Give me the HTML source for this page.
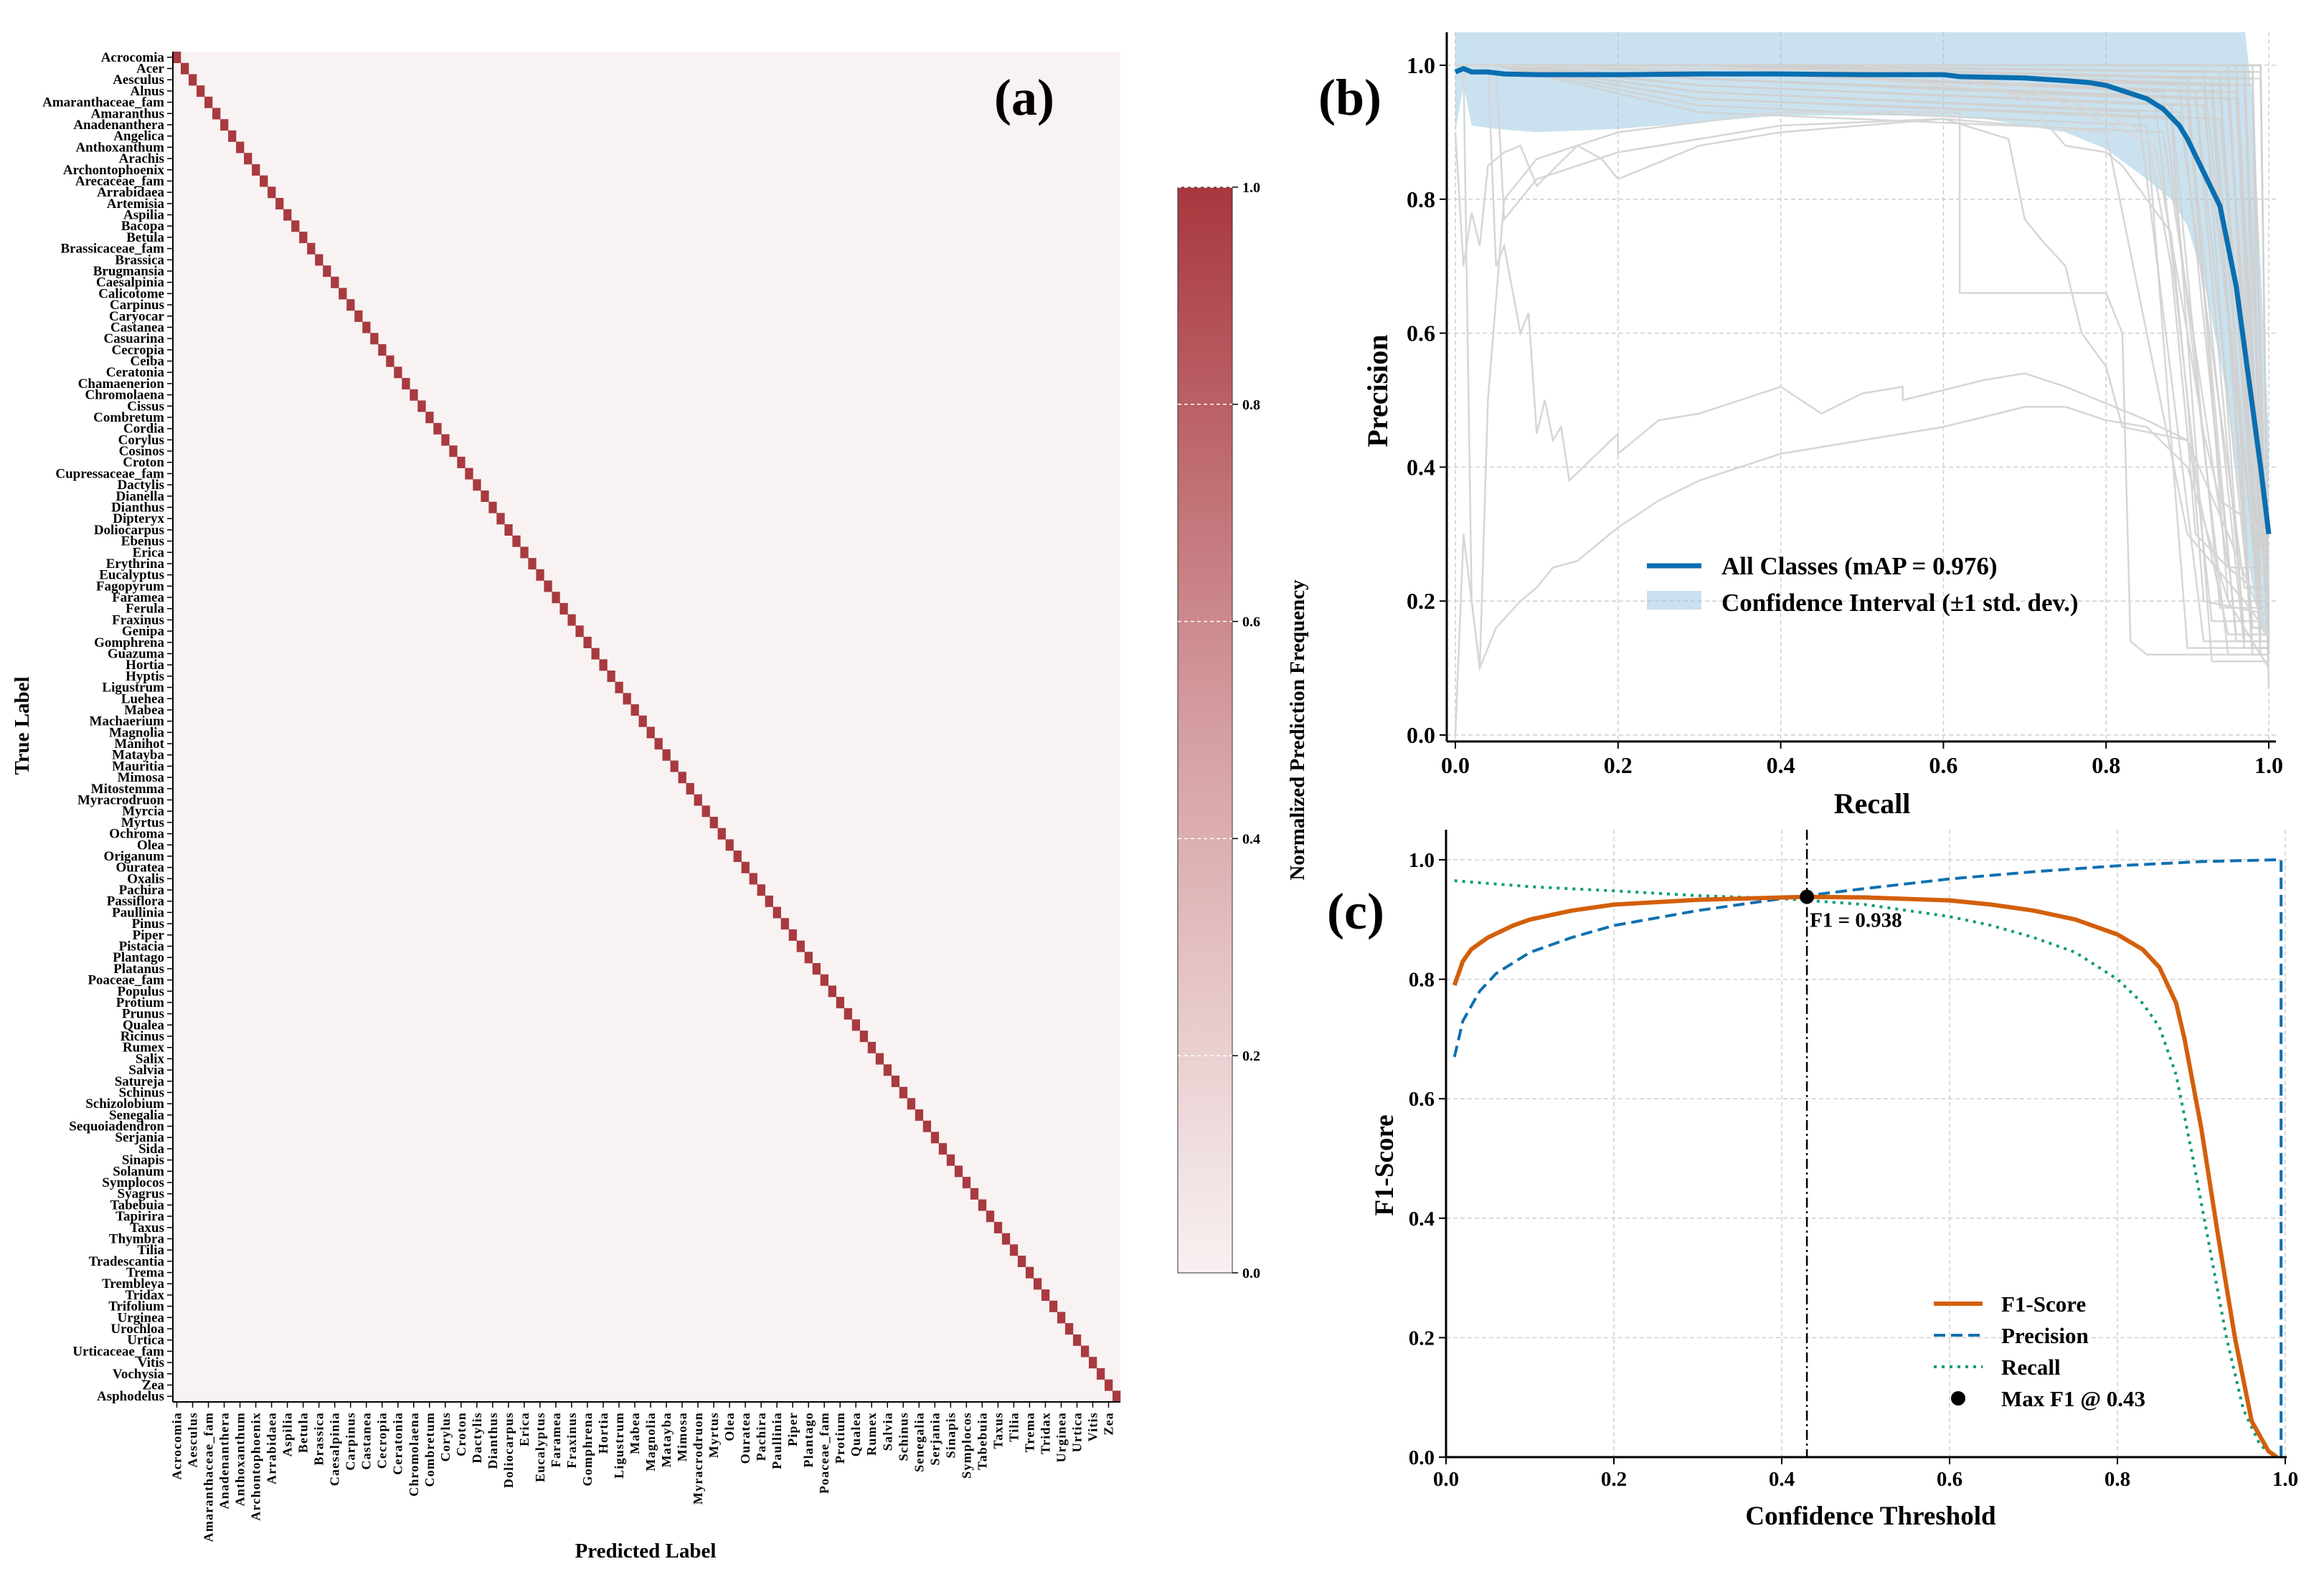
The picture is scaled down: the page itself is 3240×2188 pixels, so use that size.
<!DOCTYPE html>
<html><head><meta charset="utf-8">
<style>
html,body{margin:0;padding:0;background:#fff;}
svg{display:block;font-family:"Liberation Serif","Times New Roman",serif;font-weight:bold;}
</style></head>
<body>
<svg id="fig" width="3240" height="2188" viewBox="0 0 3240 2188" xmlns="http://www.w3.org/2000/svg">
<defs>
<linearGradient id="cbgrad" x1="0" y1="1" x2="0" y2="0">
<stop offset="0" stop-color="#f8f1f1"/>
<stop offset="0.5" stop-color="#d59ea1"/>
<stop offset="1" stop-color="#a8373e"/>
</linearGradient>
<clipPath id="clipB"><rect x="2017" y="45" width="1160" height="989"/></clipPath>
<clipPath id="clipC"><rect x="2016" y="1157" width="1172" height="876"/></clipPath>
</defs>
<g id="panelA"></g>
<g id="panelB"></g>
<g id="panelC"></g>
</svg>
<script>
// ---------- Panel A data ----------
const classNames = ["Acrocomia","Acer","Aesculus","Alnus","Amaranthaceae_fam","Amaranthus","Anadenanthera","Angelica","Anthoxanthum","Arachis","Archontophoenix","Arecaceae_fam","Arrabidaea","Artemisia","Aspilia","Bacopa","Betula","Brassicaceae_fam","Brassica","Brugmansia","Caesalpinia","Calicotome","Carpinus","Caryocar","Castanea","Casuarina","Cecropia","Ceiba","Ceratonia","Chamaenerion","Chromolaena","Cissus","Combretum","Cordia","Corylus","Cosinos","Croton","Cupressaceae_fam","Dactylis","Dianella","Dianthus","Dipteryx","Doliocarpus","Ebenus","Erica","Erythrina","Eucalyptus","Fagopyrum","Faramea","Ferula","Fraxinus","Genipa","Gomphrena","Guazuma","Hortia","Hyptis","Ligustrum","Luehea","Mabea","Machaerium","Magnolia","Manihot","Matayba","Mauritia","Mimosa","Mitostemma","Myracrodruon","Myrcia","Myrtus","Ochroma","Olea","Origanum","Ouratea","Oxalis","Pachira","Passiflora","Paullinia","Pinus","Piper","Pistacia","Plantago","Platanus","Poaceae_fam","Populus","Protium","Prunus","Qualea","Ricinus","Rumex","Salix","Salvia","Satureja","Schinus","Schizolobium","Senegalia","Sequoiadendron","Serjania","Sida","Sinapis","Solanum","Symplocos","Syagrus","Tabebuia","Tapirira","Taxus","Thymbra","Tilia","Tradescantia","Trema","Trembleya","Tridax","Trifolium","Urginea","Urochloa","Urtica","Urticaceae_fam","Vitis","Vochysia","Zea","Asphodelus"];
const diagValues = classNames.map(()=>1.0);
const cbTicks = [0.0,0.2,0.4,0.6,0.8,1.0];

// ---------- Panel B data ----------
const bTicks = [0.0,0.2,0.4,0.6,0.8,1.0];
const meanRecall = [0,0.01,0.02,0.04,0.06,0.1,0.2,0.3,0.4,0.5,0.6,0.62,0.7,0.75,0.78,0.8,0.82,0.85,0.87,0.89,0.9,0.92,0.94,0.96,0.98,0.99,1.0];
const meanPrec   = [0.99,0.995,0.99,0.99,0.987,0.986,0.986,0.987,0.987,0.986,0.986,0.983,0.981,0.977,0.974,0.97,0.962,0.95,0.935,0.91,0.89,0.84,0.79,0.67,0.49,0.4,0.3];
const bandRecall = [0,0.01,0.02,0.05,0.1,0.2,0.4,0.6,0.65,0.75,0.8,0.85,0.88,0.9,0.92,0.95,0.96,0.97,0.98,0.99,1.0];
const bandLower  = [0.9,0.97,0.91,0.905,0.9,0.905,0.925,0.925,0.92,0.9,0.875,0.83,0.8,0.76,0.68,0.5,0.4,0.3,0.22,0.16,0.14];
const bandUpper  = [1.08,1.08,1.08,1.08,1.08,1.08,1.08,1.08,1.08,1.08,1.08,1.08,1.08,1.08,1.08,1.08,1.08,1.06,0.95,0.7,0.45];
const grayCurves = [
 [[0,0],[0.01,0.3],[0.02,0.2],[0.03,0.1],[0.05,0.16],[0.08,0.2],[0.1,0.22],[0.12,0.25],[0.15,0.26],[0.18,0.29],[0.2,0.31],[0.25,0.35],[0.3,0.38],[0.35,0.4],[0.4,0.42],[0.45,0.43],[0.5,0.44],[0.6,0.46],[0.7,0.49],[0.75,0.49],[0.8,0.47],[0.85,0.46],[0.9,0.4],[0.95,0.2],[1,0.1]],
 [[0.04,1],[0.05,0.7],[0.06,0.73],[0.08,0.6],[0.09,0.63],[0.1,0.45],[0.11,0.5],[0.12,0.44],[0.13,0.46],[0.14,0.38],[0.2,0.45],[0.2,0.42],[0.25,0.47],[0.3,0.48],[0.35,0.5],[0.4,0.52],[0.45,0.48],[0.5,0.51],[0.55,0.52],[0.55,0.5],[0.65,0.53],[0.7,0.54],[0.75,0.52],[0.85,0.47],[0.9,0.44],[0.95,0.3],[1,0.15]],
 [[0,0.9],[0.01,0.7],[0.02,0.78],[0.03,0.73],[0.04,0.85],[0.06,0.87],[0.08,0.88],[0.1,0.82],[0.15,0.88],[0.18,0.86],[0.2,0.83],[0.3,0.88],[0.4,0.9],[0.6,0.92],[0.8,0.9],[0.85,0.6],[0.9,0.3],[0.97,0.2],[1,0.15]],
 [[0.01,1],[0.02,0.2],[0.03,0.1],[0.04,0.5],[0.06,0.8],[0.1,0.86],[0.2,0.9],[0.4,0.93],[0.62,0.93],[0.62,0.66],[0.8,0.66],[0.82,0.6],[0.83,0.14],[0.85,0.12],[1,0.12]],
 [[0.05,1],[0.06,0.77],[0.1,0.83],[0.2,0.87],[0.4,0.91],[0.6,0.92],[0.68,0.89],[0.7,0.77],[0.72,0.74],[0.75,0.7],[0.77,0.6],[0.8,0.55],[0.82,0.46],[0.9,0.44],[0.95,0.15],[1,0.15]],
 [[0,1],[0.6,0.99],[0.7,0.95],[0.75,0.88],[0.8,0.87],[0.82,0.85],[0.85,0.8],[0.88,0.75],[0.9,0.5],[0.92,0.2],[1,0.18]],
 [[0.3,1],[0.6,0.97],[0.75,0.95],[0.85,0.9],[0.88,0.7],[0.9,0.45],[0.91,0.3],[0.95,0.25],[1,0.2]],
 [[0.5,1],[0.7,0.97],[0.86,0.88],[0.9,0.6],[0.92,0.45],[0.94,0.35],[1,0.3]]
];
const classDropStart = [0.84,0.86,0.87,0.88,0.89,0.9,0.9,0.91,0.92,0.92,0.93,0.93,0.94,0.94,0.95,0.95,0.95,0.96,0.96,0.96,0.97,0.97,0.97,0.98,0.98,0.98,0.99,0.99,0.99,0.99,0.88,0.9,0.93,0.95,0.97,0.85,0.91,0.94,0.96,0.98,0.87,0.89,0.92,0.94,0.96];
const classDropEnd   = [0.92,0.93,0.95,0.94,0.96,0.97,0.95,0.98,0.97,0.99,0.98,0.99,0.99,0.98,0.99,1.0,0.99,1.0,0.99,1.0,1.0,0.99,1.0,1.0,0.99,1.0,1.0,1.0,1.0,1.0,0.93,0.96,0.98,0.99,1.0,0.9,0.97,0.99,1.0,1.0,0.95,0.97,0.98,0.99,0.99];
const classPlateau   = [0.93,0.95,0.96,0.94,0.97,0.95,0.98,0.96,0.97,0.99,0.95,0.98,0.96,0.99,0.97,0.95,1.0,0.98,0.96,0.99,0.97,1.0,0.98,0.99,1.0,0.97,1.0,0.98,0.99,1.0,0.92,0.94,0.96,0.98,0.99,0.91,0.95,0.97,1.0,0.98,0.9,0.93,0.94,0.92,0.95];
const classFloor     = [0.14,0.17,0.12,0.19,0.15,0.13,0.2,0.16,0.14,0.18,0.12,0.15,0.17,0.13,0.19,0.16,0.14,0.12,0.18,0.15,0.13,0.17,0.2,0.14,0.16,0.12,0.15,0.18,0.13,0.17,0.11,0.14,0.16,0.12,0.19,0.13,0.15,0.17,0.14,0.07,0.25,0.22,0.3,0.24,0.28];

// ---------- Panel C data ----------
const cTicks = [0.0,0.2,0.4,0.6,0.8,1.0];
const f1Thr  = [0.01,0.02,0.03,0.05,0.08,0.1,0.15,0.2,0.3,0.43,0.5,0.6,0.65,0.7,0.75,0.8,0.83,0.85,0.87,0.88,0.9,0.92,0.94,0.96,0.98,0.99];
const f1Val  = [0.79,0.83,0.85,0.87,0.89,0.90,0.915,0.925,0.933,0.938,0.937,0.932,0.925,0.915,0.9,0.875,0.85,0.82,0.76,0.7,0.55,0.37,0.2,0.06,0.01,0.0];
const precThr = [0.01,0.02,0.04,0.06,0.1,0.15,0.2,0.3,0.4,0.5,0.6,0.7,0.8,0.9,0.99,0.995,0.995];
const precVal = [0.67,0.73,0.78,0.81,0.845,0.87,0.89,0.915,0.935,0.952,0.968,0.98,0.99,0.997,1.0,1.0,0.0];
const recThr = [0.01,0.1,0.2,0.3,0.4,0.5,0.55,0.6,0.65,0.7,0.75,0.8,0.83,0.85,0.87,0.89,0.91,0.93,0.95,0.97,0.99];
const recVal = [0.965,0.955,0.948,0.94,0.935,0.925,0.915,0.905,0.89,0.87,0.845,0.8,0.76,0.72,0.64,0.5,0.35,0.2,0.08,0.02,0.0];
const maxF1Thr = [0.43];
const maxF1Val = [0.938];

const NS="http://www.w3.org/2000/svg";
function mk(parent,tag,attrs,text){const e=document.createElementNS(NS,tag);for(const k in attrs)e.setAttribute(k,attrs[k]);if(text!==undefined)e.textContent=text;parent.appendChild(e);return e;}

// ================= Panel A =================
const A=document.getElementById('panelA');
const aL=241,aR=1562,aT=72,aB=1955,n=classNames.length;
const cw=(aR-aL)/n, ch=(aB-aT)/n;
const ax=i=>aL+i*cw, ay=i=>aT+i*ch;
let e=mk(A,'rect',{x:aL,y:aT,width:aR-aL,height:aB-aT,fill:'#f8f2f2'});


function cellColor(v){const a=[248,242,242],b=[168,58,64];return 'rgb('+a.map((c,k)=>Math.round(c+(b[k]-c)*v)).join(',')+')';}
diagValues.forEach((v,i)=>{
  const r=mk(A,'rect',{x:ax(i),y:ay(i),width:cw+0.3,height:ch+0.3,fill:cellColor(v)});
  
  
});
mk(A,'line',{x1:aL,y1:aT,x2:aL,y2:aB,stroke:'#000','stroke-width':2});
mk(A,'line',{x1:aL,y1:aB,x2:aR,y2:aB,stroke:'#000','stroke-width':2});
classNames.forEach((nm,i)=>{
  const y=ay(i)+ch/2;
  mk(A,'line',{x1:aL-8,y1:y,x2:aL,y2:y,stroke:'#000','stroke-width':1.5});
  const t=mk(A,'text',{x:aL-12,y:y+6,'text-anchor':'end','font-size':19},nm);
  
  
});
classNames.forEach((nm,i)=>{
  if(i%2!==0) return;
  const x=ax(i)+cw/2;
  mk(A,'line',{x1:x,y1:aB,x2:x,y2:aB+8,stroke:'#000','stroke-width':1.5});
  const t=mk(A,'text',{x:0,y:0,'text-anchor':'end','font-size':18,'letter-spacing':1.2,transform:`translate(${x+6},${aB+14}) rotate(-90)`},nm);
  
  
});
e=mk(A,'text',{x:0,y:0,'text-anchor':'middle','font-size':29,transform:`translate(40,1012) rotate(-90)`},'True Label');


e=mk(A,'text',{x:900,y:2172,'text-anchor':'middle','font-size':29},'Predicted Label');


e=mk(A,'text',{x:1428,y:160,'text-anchor':'middle','font-size':72},'(a)');


// colorbar
const cbL=1642,cbR=1718,cbT=261,cbB=1775;
const cby=v=>cbB-v*(cbB-cbT);
e=mk(A,'rect',{x:cbL,y:cbT,width:cbR-cbL,height:cbB-cbT,fill:'url(#cbgrad)'});


mk(A,'rect',{x:cbL,y:cbT,width:cbR-cbL,height:cbB-cbT,fill:'none',stroke:'#333','stroke-width':1});
cbTicks.forEach(v=>{
  const y=cby(v);
  if(v>0) mk(A,'line',{x1:cbL,y1:y,x2:cbR,y2:y,stroke:'#fff','stroke-width':1.5,'stroke-dasharray':'5,4'});
  mk(A,'line',{x1:cbR,y1:y,x2:cbR+8,y2:y,stroke:'#000','stroke-width':1.5});
  const t=mk(A,'text',{x:cbR+14,y:y+7,'font-size':20},v.toFixed(1));
  
  
});
e=mk(A,'text',{x:0,y:0,'text-anchor':'middle','font-size':29,transform:`translate(1818,1018) rotate(-90)`},'Normalized Prediction Frequency');



// ================= Panel B =================
const B=document.getElementById('panelB');
const bx=r=>2029+r*1134, by=p=>1025-p*934;
const bL=2017,bR=3173,bT=45,bBot=1034;
bTicks.forEach(v=>{
  mk(B,'line',{x1:bx(v),y1:bT,x2:bx(v),y2:bBot,stroke:'#cfcfcf','stroke-width':1.5,'stroke-dasharray':'6,4'});
  mk(B,'line',{x1:bL,y1:by(v),x2:bR,y2:by(v),stroke:'#cfcfcf','stroke-width':1.5,'stroke-dasharray':'6,4'});
});
const gB=mk(B,'g',{'clip-path':'url(#clipB)'});
let bandPts=bandRecall.map((r,i)=>bx(r)+','+by(bandUpper[i]));
bandPts=bandPts.concat(bandRecall.map((r,i)=>bx(r)+','+by(bandLower[i])).reverse());
e=mk(gB,'polygon',{points:bandPts.join(' '),fill:'#9ecae1','fill-opacity':0.55});


classDropStart.forEach((a,i)=>{
  const p=classPlateau[i];
  const pts=[[0,1],[0.05,1],[0.3,Math.min(1,p+0.03)],[a,p],[classDropEnd[i],classFloor[i]],[1,classFloor[i]]];
  const pl=mk(gB,'polyline',{points:pts.map(q=>bx(q[0])+','+by(q[1])).join(' '),fill:'none',stroke:'#d0d0d0','stroke-width':2.5,'stroke-opacity':0.85});
  
  
});
grayCurves.forEach(c=>{
  const pl=mk(gB,'polyline',{points:c.map(q=>bx(q[0])+','+by(q[1])).join(' '),fill:'none',stroke:'#d6d6d6','stroke-width':2.5});
  
  
});
e=mk(gB,'polyline',{points:meanRecall.map((r,i)=>bx(r)+','+by(meanPrec[i])).join(' '),fill:'none',stroke:'#0a6eb0','stroke-width':7,'stroke-linejoin':'round'});


mk(B,'line',{x1:bL,y1:bT,x2:bL,y2:bBot,stroke:'#000','stroke-width':3});
mk(B,'line',{x1:bL,y1:bBot,x2:bR,y2:bBot,stroke:'#000','stroke-width':3});
bTicks.forEach(v=>{
  mk(B,'line',{x1:bL-10,y1:by(v),x2:bL,y2:by(v),stroke:'#000','stroke-width':2});
  let t=mk(B,'text',{x:bL-16,y:by(v)+11,'text-anchor':'end','font-size':32},v.toFixed(1));
  
  
  mk(B,'line',{x1:bx(v),y1:bBot,x2:bx(v),y2:bBot+10,stroke:'#000','stroke-width':2});
  t=mk(B,'text',{x:bx(v),y:bBot+44,'text-anchor':'middle','font-size':32},v.toFixed(1));
  
  
});
e=mk(B,'text',{x:0,y:0,'text-anchor':'middle','font-size':40,transform:`translate(1934,545) rotate(-90)`},'Precision');


e=mk(B,'text',{x:2610,y:1134,'text-anchor':'middle','font-size':40},'Recall');


e=mk(B,'text',{x:1882,y:160,'text-anchor':'middle','font-size':72},'(b)');


mk(B,'line',{x1:2296,y1:789,x2:2372,y2:789,stroke:'#0a6eb0','stroke-width':7});
e=mk(B,'text',{x:2400,y:801,'font-size':35},'All Classes (mAP = 0.976)');


mk(B,'rect',{x:2296,y:824,width:76,height:26,fill:'#9ecae1','fill-opacity':0.55});
e=mk(B,'text',{x:2400,y:852,'font-size':35},'Confidence Interval (±1 std. dev.)');



// ================= Panel C =================
const C=document.getElementById('panelC');
const cx=t=>2016+t*1170, cy=v=>2032-v*833;
const cL=2016,cR=3188,cT=1157,cBot=2032;
cTicks.forEach(v=>{
  mk(C,'line',{x1:cx(v),y1:cT,x2:cx(v),y2:cBot,stroke:'#cfcfcf','stroke-width':1.5,'stroke-dasharray':'6,4'});
  mk(C,'line',{x1:cL,y1:cy(v),x2:cR,y2:cy(v),stroke:'#cfcfcf','stroke-width':1.5,'stroke-dasharray':'6,4'});
});
const gC=mk(C,'g',{'clip-path':'url(#clipC)'});
e=mk(gC,'line',{x1:cx(maxF1Thr[0]),y1:cT,x2:cx(maxF1Thr[0]),y2:cBot,stroke:'#000','stroke-width':2.5,'stroke-dasharray':'14,5,3,5'});


e=mk(gC,'polyline',{points:recThr.map((t,i)=>cx(t)+','+cy(recVal[i])).join(' '),fill:'none',stroke:'#109c77','stroke-width':4,'stroke-dasharray':'4,7'});


e=mk(gC,'polyline',{points:precThr.map((t,i)=>cx(t)+','+cy(precVal[i])).join(' '),fill:'none',stroke:'#1070b0','stroke-width':4,'stroke-dasharray':'16,8'});


e=mk(gC,'polyline',{points:f1Thr.map((t,i)=>cx(t)+','+cy(f1Val[i])).join(' '),fill:'none',stroke:'#d35f0a','stroke-width':6,'stroke-linejoin':'round'});


e=mk(C,'circle',{cx:cx(maxF1Thr[0]),cy:cy(maxF1Val[0]),r:10,fill:'#000'});


e=mk(C,'text',{x:cx(maxF1Thr[0])+4,y:cy(maxF1Val[0])+42,'font-size':29},'F1 = '+maxF1Val[0].toFixed(3));


mk(C,'line',{x1:cL,y1:cT,x2:cL,y2:cBot,stroke:'#000','stroke-width':3});
mk(C,'line',{x1:cL,y1:cBot,x2:cR,y2:cBot,stroke:'#000','stroke-width':3});
cTicks.forEach(v=>{
  mk(C,'line',{x1:cL-10,y1:cy(v),x2:cL,y2:cy(v),stroke:'#000','stroke-width':2});
  let t=mk(C,'text',{x:cL-16,y:cy(v)+10,'text-anchor':'end','font-size':29},v.toFixed(1));
  
  
  mk(C,'line',{x1:cx(v),y1:cBot,x2:cx(v),y2:cBot+10,stroke:'#000','stroke-width':2});
  t=mk(C,'text',{x:cx(v),y:cBot+40,'text-anchor':'middle','font-size':29},v.toFixed(1));
  
  
});
e=mk(C,'text',{x:0,y:0,'text-anchor':'middle','font-size':37,transform:`translate(1942,1625) rotate(-90)`},'F1-Score');


e=mk(C,'text',{x:2608,y:2126,'text-anchor':'middle','font-size':37},'Confidence Threshold');


e=mk(C,'text',{x:1890,y:1295,'text-anchor':'middle','font-size':72},'(c)');


mk(C,'line',{x1:2696,y1:1818,x2:2764,y2:1818,stroke:'#d35f0a','stroke-width':6});
e=mk(C,'text',{x:2790,y:1829,'font-size':31},'F1-Score');


mk(C,'line',{x1:2696,y1:1862,x2:2764,y2:1862,stroke:'#1070b0','stroke-width':4,'stroke-dasharray':'16,8'});
e=mk(C,'text',{x:2790,y:1873,'font-size':31},'Precision');


mk(C,'line',{x1:2696,y1:1906,x2:2764,y2:1906,stroke:'#109c77','stroke-width':4,'stroke-dasharray':'4,7'});
e=mk(C,'text',{x:2790,y:1917,'font-size':31},'Recall');


mk(C,'circle',{cx:2730,cy:1950,r:10,fill:'#000'});
e=mk(C,'text',{x:2790,y:1961,'font-size':31},'Max F1 @ '+maxF1Thr[0].toFixed(2));


</script>
</body></html>
